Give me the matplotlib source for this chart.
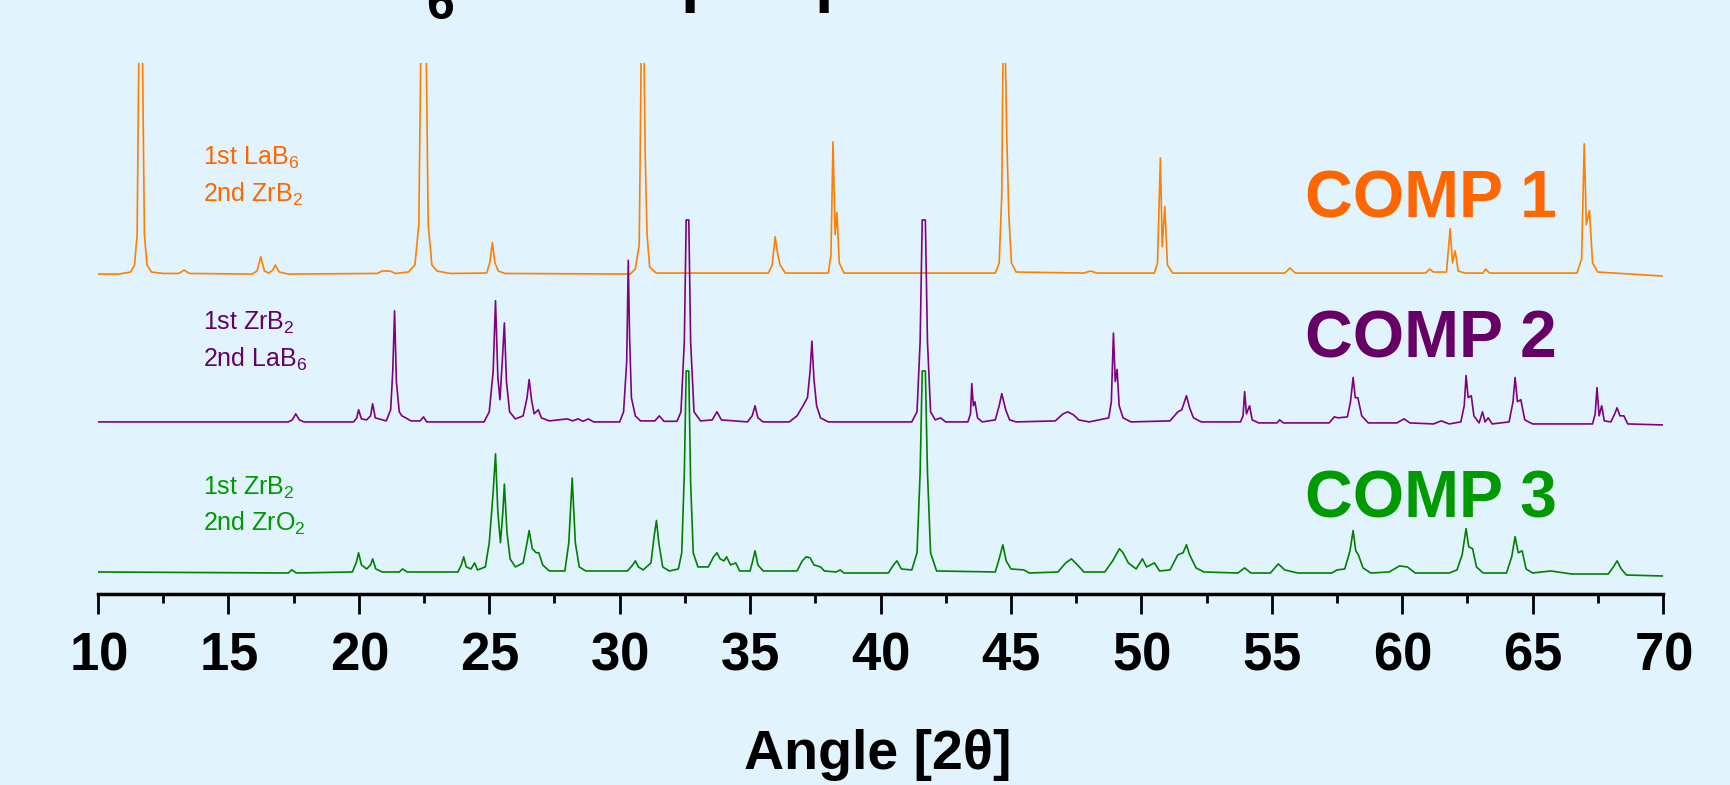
import numpy as np
import matplotlib
matplotlib.use("Agg")
import matplotlib.pyplot as plt

# --- data: trace vertices (2theta, normalised intensity) ---
comp1_pts = [
    (10.0, 0.5), (10.8, 0.5), (11.25, 1.5), (11.40, 5), (11.50, 20), (11.57, 115), (11.70, 115),
    (11.78, 20), (11.88, 5), (12.05, 1.5), (12.5, 0.8), (13.1, 0.8), (13.3, 2.5), (13.5, 0.8),
    (15.9, 0.5), (16.1, 2), (16.24, 9), (16.38, 2), (16.55, 1), (16.7, 2.5), (16.8, 5), (16.95, 1.5),
    (17.3, 0.5), (20.7, 0.8), (20.9, 2), (21.2, 2), (21.4, 0.8), (21.9, 1.5), (22.15, 5), (22.30, 25),
    (22.38, 115), (22.58, 115), (22.66, 25), (22.80, 5), (23.0, 2), (23.5, 0.8), (24.9, 1),
    (25.02, 6), (25.12, 16), (25.22, 6), (25.35, 2), (25.6, 0.8), (30.4, 0.5), (30.6, 3),
    (30.75, 15), (30.83, 115), (30.93, 115), (30.98, 59), (31.05, 20), (31.15, 4), (31.4, 1),
    (35.7, 1), (35.85, 5), (35.96, 19), (36.05, 11), (36.15, 5), (36.35, 1), (38.0, 1),
    (38.10, 10), (38.18, 66), (38.26, 20), (38.33, 31), (38.42, 6), (38.6, 1), (44.4, 1),
    (44.55, 6), (44.65, 40), (44.70, 115), (44.78, 115), (44.84, 69), (44.92, 30), (45.02, 6),
    (45.2, 1.5), (47.8, 1), (48.05, 2), (48.3, 1), (50.5, 1), (50.62, 6), (50.73, 58), (50.80, 14),
    (50.90, 34), (51.00, 5), (51.2, 1), (55.5, 1), (55.7, 3.5), (55.9, 1), (60.9, 1), (61.05, 3),
    (61.2, 1.5), (61.7, 1.5), (61.84, 23), (61.93, 6), (62.03, 12), (62.15, 2), (62.4, 1),
    (63.1, 1), (63.2, 3), (63.35, 1), (66.7, 1), (66.88, 8), (66.98, 65), (67.06, 25),
    (67.18, 32), (67.30, 6), (67.5, 1.5), (70.0, -0.5),
]

comp2_pts = [
    (10.0, 0), (17.3, 0), (17.45, 1), (17.58, 4), (17.72, 1), (17.9, 0), (19.8, 0), (19.92, 2),
    (19.99, 6), (20.1, 1.5), (20.3, 1), (20.45, 3), (20.53, 9), (20.63, 2), (21.05, 0.5),
    (21.22, 6), (21.30, 25), (21.37, 55), (21.44, 20), (21.55, 5), (21.65, 3), (21.8, 2),
    (22.0, 0.5), (22.35, 0.5), (22.48, 2.5), (22.6, 0), (24.8, 0), (25.0, 5), (25.15, 25),
    (25.24, 60), (25.33, 22), (25.41, 11), (25.50, 30), (25.58, 49), (25.66, 20), (25.78, 5),
    (26.0, 1.5), (26.3, 3), (26.45, 12), (26.53, 21), (26.62, 11), (26.72, 4), (26.88, 6),
    (27.0, 2), (27.3, 0.5), (28.0, 1.5), (28.2, 0.5), (28.4, 1.5), (28.6, 0.3), (28.8, 1.5),
    (29.0, 0), (30.0, 0), (30.15, 5), (30.27, 30), (30.33, 80), (30.38, 42), (30.45, 12),
    (30.6, 3), (30.8, 0.5), (31.35, 0.5), (31.52, 3), (31.7, 0.3), (32.2, 0.3), (32.35, 5),
    (32.48, 40), (32.55, 100), (32.65, 100), (32.72, 40), (32.85, 5), (33.1, 0.5), (33.55, 1),
    (33.73, 5), (33.9, 1), (34.9, 0), (35.08, 3), (35.19, 8), (35.3, 2), (35.5, 0), (36.5, 0),
    (36.8, 3), (37.03, 8), (37.2, 12), (37.30, 25), (37.37, 40), (37.45, 21), (37.55, 8),
    (37.7, 2), (38.0, 0), (41.2, 0), (41.4, 5), (41.52, 40), (41.60, 100), (41.72, 100),
    (41.80, 40), (41.92, 5), (42.1, 1), (42.3, 2), (42.5, 0), (43.35, 0), (43.45, 4),
    (43.50, 19), (43.56, 8), (43.62, 10), (43.72, 2), (43.9, 0), (44.4, 1), (44.55, 8),
    (44.65, 14), (44.8, 6), (44.95, 1), (45.2, 0), (46.7, 0.5), (47.0, 4), (47.18, 5),
    (47.4, 3.5), (47.6, 1), (48.0, 0), (48.75, 2), (48.85, 10), (48.93, 44), (49.00, 20),
    (49.07, 26), (49.15, 8), (49.3, 2), (49.6, 0), (51.1, 0.5), (51.4, 5), (51.55, 6),
    (51.73, 13), (51.85, 7), (52.0, 2), (52.3, 0), (53.8, 0), (53.9, 3), (53.96, 15),
    (54.03, 4), (54.15, 8), (54.25, 1), (54.5, -0.5), (55.2, -0.5), (55.3, 1), (55.45, -0.5),
    (57.2, -0.5), (57.4, 2.5), (57.55, 2), (57.9, 2.5), (58.02, 10), (58.12, 22), (58.2, 12),
    (58.3, 12), (58.45, 3), (58.7, -0.5), (59.8, -0.5), (60.07, 1.5), (60.3, -0.5), (61.2, -1),
    (61.5, 0.5), (61.8, -1), (62.25, 0), (62.38, 8), (62.45, 23), (62.53, 12), (62.65, 13),
    (62.75, 3), (62.95, -0.5), (63.08, 5), (63.18, 0), (63.3, 2), (63.45, -1), (64.1, 0),
    (64.25, 10), (64.33, 22), (64.42, 10), (64.55, 11), (64.7, 1), (65.0, -1), (67.3, -1),
    (67.40, 4), (67.47, 17), (67.55, 3), (67.65, 8), (67.75, 0.5), (68.0, 0), (68.15, 4),
    (68.24, 7), (68.35, 3), (68.5, 3), (68.65, -1), (70.0, -1.5),
]

comp3_pts = [
    (10.0, 0.5), (17.3, 0), (17.43, 1.6), (17.6, 0), (19.75, 0.5), (19.9, 5), (19.99, 10),
    (20.1, 4), (20.3, 2), (20.45, 4), (20.53, 7), (20.65, 2), (20.9, 0.5), (21.55, 0.5),
    (21.68, 2), (21.85, 0.5), (23.8, 0.5), (23.93, 4), (24.02, 8), (24.12, 3), (24.3, 2),
    (24.44, 5), (24.55, 1.5), (24.85, 3), (25.0, 15), (25.15, 40), (25.24, 59), (25.33, 30),
    (25.43, 15), (25.52, 30), (25.58, 44), (25.68, 20), (25.8, 7), (26.0, 3), (26.3, 5),
    (26.45, 15), (26.53, 21), (26.65, 12), (26.8, 10), (26.9, 10), (27.05, 4), (27.3, 1),
    (27.9, 1), (28.05, 15), (28.18, 47), (28.3, 15), (28.45, 3), (28.7, 1), (30.3, 1),
    (30.5, 4), (30.6, 6), (30.72, 3), (30.9, 1.5), (31.2, 5), (31.32, 18), (31.41, 26),
    (31.5, 15), (31.65, 3), (31.9, 1), (32.25, 2), (32.38, 10), (32.48, 50), (32.55, 100),
    (32.65, 100), (32.72, 45), (32.82, 10), (33.0, 3), (33.4, 3), (33.6, 8), (33.73, 10),
    (33.85, 7), (34.0, 6), (34.1, 8), (34.25, 4), (34.45, 5), (34.6, 1), (35.0, 1), (35.1, 6),
    (35.19, 11), (35.3, 4), (35.5, 1), (36.8, 1), (37.0, 6), (37.15, 8), (37.3, 7.5),
    (37.45, 4), (37.7, 3), (37.85, 1), (38.3, 0.5), (38.45, 1.5), (38.6, 0), (40.3, 0),
    (40.5, 4), (40.63, 6), (40.8, 2), (41.2, 1.5), (41.4, 10), (41.52, 50), (41.60, 100),
    (41.72, 100), (41.80, 50), (41.92, 10), (42.15, 1), (44.4, 0.5), (44.55, 7), (44.69, 14),
    (44.82, 6), (45.0, 2), (45.5, 1.5), (45.7, 0), (46.8, 0.5), (47.1, 5), (47.32, 7),
    (47.55, 4), (47.8, 0.5), (48.6, 0.5), (48.9, 6), (49.16, 12), (49.3, 10), (49.5, 5),
    (49.8, 2), (50.04, 7), (50.2, 3), (50.5, 5), (50.7, 1), (51.1, 1.5), (51.4, 9), (51.6, 10),
    (51.73, 14), (51.85, 9), (52.1, 2.5), (52.4, 0.5), (53.7, 0), (53.96, 2.5), (54.2, 0),
    (54.95, 0), (55.25, 4.5), (55.5, 1.5), (56.0, 0), (57.3, 0), (57.5, 1.5), (57.8, 2),
    (58.0, 11), (58.12, 21), (58.22, 11), (58.32, 9), (58.5, 2.5), (58.8, 0), (59.5, 0.5),
    (59.9, 3.5), (60.2, 3), (60.5, 0), (61.8, 0), (62.1, 1.5), (62.3, 9), (62.45, 22),
    (62.55, 13), (62.7, 12), (62.85, 3), (63.1, 0), (64.0, 0), (64.2, 8), (64.33, 18),
    (64.45, 10), (64.6, 11), (64.75, 2), (65.0, 0), (65.7, 1), (66.5, -0.5), (67.9, -0.5),
    (68.1, 3), (68.24, 6), (68.4, 2), (68.6, -1), (70.0, -1.5),
]

labels = ["COMP 1", "COMP 2", "COMP 3"]
phases = [("1st LaB$_6$", "2nd ZrB$_2$"),
          ("1st ZrB$_2$", "2nd LaB$_6$"),
          ("1st ZrB$_2$", "2nd ZrO$_2$")]
offsets = [147.5, 74.8, 0.0]
line_colors = ["#FF8000", "#800080", "#008000"]
text_colors = ["#FF6600", "#660066", "#009900"]
xticks = [10, 15, 20, 25, 30, 35, 40, 45, 50, 55, 60, 65, 70]

BG = "#E1F3FD"
W, H = 1730, 785

plt.rcParams["font.family"] = ["Liberation Sans", "DejaVu Sans"]
plt.rcParams["mathtext.fontset"] = "custom"
plt.rcParams["mathtext.rm"] = "Liberation Sans"
plt.rcParams["mathtext.it"] = "Liberation Sans:italic"
plt.rcParams["mathtext.bf"] = "Liberation Sans:bold"


def fx(px):
    return px / W


def fy(py):
    return 1 - py / H


fig = plt.figure(figsize=(W / 100, H / 100), dpi=100, facecolor=BG)
ax = fig.add_axes([fx(98), fy(594), (1663 - 98) / W, (594 - 63) / H])
ax.set_facecolor(BG)

for pts, off, c in zip([comp1_pts, comp2_pts, comp3_pts], offsets, line_colors):
    a = np.array(pts)
    ax.plot(a[:, 0], a[:, 1] + off, color=c, lw=1.2)

ax.set_xlim(10, 70)
ax.set_ylim(-10.4, 252.5)
for s in ("left", "right", "top"):
    ax.spines[s].set_visible(False)
ax.spines["bottom"].set_linewidth(2.5)
ax.set_yticks([])
ax.set_xticks(xticks)
ax.set_xticklabels([])
ax.set_xticks(np.arange(12.5, 70, 5), minor=True)
ax.tick_params(axis="x", which="major", direction="out", length=14.4, width=2)
ax.tick_params(axis="x", which="minor", direction="out", length=6.7, width=2)

# tick labels through mathtext so every label sits on the same baseline
tr = ax.get_xaxis_transform()
for v in xticks:
    ax.text(v, (594 - 669) / (594 - 63), r"$\mathbf{%d}$" % v, transform=tr, ha="center",
            va="baseline", fontsize=38, clip_on=False)

fig.text(fx(878), fy(769), "Angle [2θ]", ha="center", va="baseline",
         fontsize=40, fontweight="bold")

# series labels
comp_base = [217, 357, 518]
phase_base = [(165, 202), (330, 367), (495, 531)]
for lab, ph, cb, pb, tc in zip(labels, phases, comp_base, phase_base, text_colors):
    fig.text(fx(1305), fy(cb), lab, ha="left", va="baseline", fontsize=47.5,
             fontweight="bold", color=tc)
    fig.text(fx(203), fy(pb[0]), ph[0], ha="left", va="baseline", fontsize=18, color=tc)
    fig.text(fx(203), fy(pb[1]), ph[1], ha="left", va="baseline", fontsize=18, color=tc)

# title cut off at the top edge of the picture
fig.text(fx(440), fy(19), "6", ha="center", va="baseline", fontsize=36, fontweight="bold")
fig.text(fx(681), fy(-1), "p", ha="left", va="baseline", fontsize=48, fontweight="bold")
fig.text(fx(815), fy(-1), "p", ha="left", va="baseline", fontsize=48, fontweight="bold")

fig.savefig("out.png", dpi=100, facecolor=BG)
